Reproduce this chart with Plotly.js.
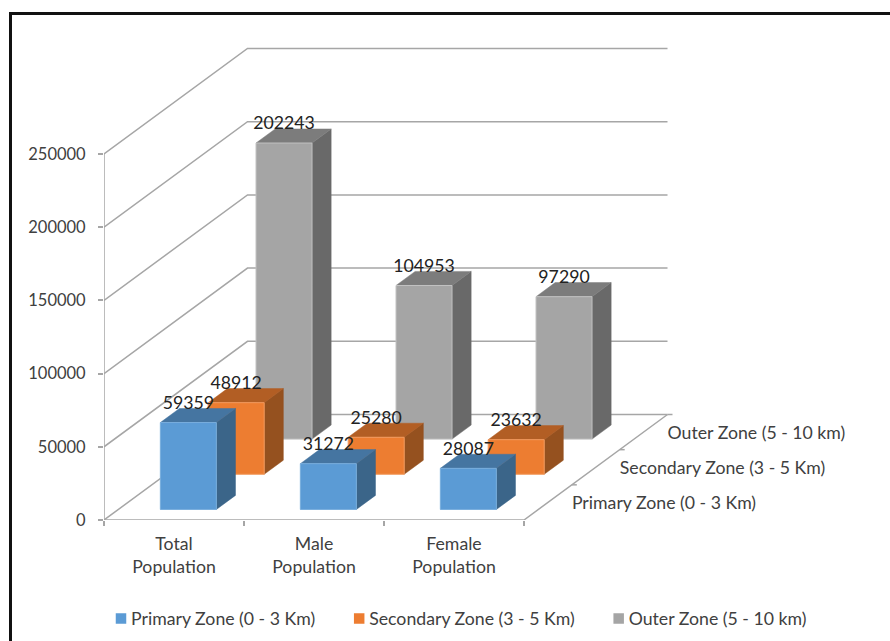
<!DOCTYPE html>
<html>
<head>
<meta charset="utf-8">
<script src="https://cdn.plot.ly/plotly-3.0.1.min.js"></script>
<style>
  html, body { margin: 0; padding: 0; background: #fff; }
  #chart { width: 890px; height: 641px; }
</style>
</head>
<body>
<div id="chart"></div>
<script>
// Population by zone
const categories = ['Total<br>Population', 'Male<br>Population', 'Female<br>Population'];
const zones = ['Primary Zone (0 - 3 Km)', 'Secondary Zone (3 - 5 Km)', 'Outer Zone (5 - 10 km)'];
const depthLabels = ['Primary Zone (0 - 3 Km)', 'Secondary Zone (3 - 5 Km)', 'Outer Zone (5 - 10 km)'];
const primaryValues = [59359, 31272, 28087];
const secondaryValues = [48912, 25280, 23632];
const outerValues = [202243, 104953, 97290];
const valueTicks = [0, 50000, 100000, 150000, 200000, 250000];

const seriesValues = [primaryValues, secondaryValues, outerValues];
const faceColors = [
  { front: '#5b9bd5', side: '#3b6589', top: '#4575a1', edge: '#78aedd' },
  { front: '#ed7d31', side: '#95511f', top: '#b25e24', edge: '#f39a5e' },
  { front: '#a5a5a5', side: '#696969', top: '#7c7c7c', edge: '#c2c2c2' }
];

// Plot frame and the scale of the oblique view
const W = 890, H = 641;
const M = { l: 104, r: 0, t: 20, b: 121 };
const pxPerCategory = 140;
const pxPerValue = 366 / 250000;
const plotW = W - M.l - M.r, plotH = H - M.t - M.b;
const depthStepX = (143.5 / 3) / pxPerCategory;       // category units per zone of depth
const depthStepY = (105.5 / 3) / pxPerValue;          // value units per zone of depth

const textFont = 'Lato, sans-serif';
const wordSize = 17.7, digitSize = 16.5, labelSize = 17.7;

// Oblique projection: category position, depth in zones, value
const project = (c, d, v) => [c + d * depthStepX, v + d * depthStepY];

function polyline(points) {
  const xs = [], ys = [];
  points.forEach(p => { xs.push(p[0]); ys.push(p[1]); });
  return { xs, ys };
}
function joinPaths(paths) {
  const x = [], y = [];
  paths.forEach(path => {
    const l = polyline(path);
    x.push(...l.xs, null);
    y.push(...l.ys, null);
  });
  return { x, y };
}

const axisColor = '#a6a6a6';
const traces = [];

// Walls and floor
const wallPaths = [];
valueTicks.forEach(v => {
  wallPaths.push([project(0, 0, v), project(0, 3, v), project(3, 3, v)]);
});
wallPaths.push([project(0, 0, 0), project(0, 0, 250000)]);
wallPaths.push([project(0, 0, 0), project(3, 0, 0), project(3, 3, 0)]);
[1, 2, 3].forEach(d => {
  const p = project(3, d, 0);
  wallPaths.push([p, [p[0] + 5 / pxPerCategory, p[1]]]);
});
traces.push(Object.assign(joinPaths(wallPaths), {
  type: 'scatter', mode: 'lines', showlegend: false, hoverinfo: 'skip',
  line: { color: axisColor, width: 1.5 }
}));

// Boxes, drawn from the back row to the front
const halfWidth = 0.2, rowInset = 0.3, rowDepth = 0.4;
[2, 1, 0].forEach(z => {
  const sides = [], tops = [], fronts = [];
  seriesValues[z].forEach((v, i) => {
    const c0 = i + 0.5 - halfWidth, c1 = i + 0.5 + halfWidth;
    const d0 = z + rowInset, d1 = d0 + rowDepth;
    fronts.push([project(c0, d0, 0), project(c1, d0, 0), project(c1, d0, v), project(c0, d0, v), project(c0, d0, 0)]);
    sides.push([project(c1, d0, 0), project(c1, d1, 0), project(c1, d1, v), project(c1, d0, v), project(c1, d0, 0)]);
    tops.push([project(c0, d0, v), project(c1, d0, v), project(c1, d1, v), project(c0, d1, v), project(c0, d0, v)]);
  });
  const col = faceColors[z];
  [[sides, col.side, col.side, 0.5], [tops, col.top, col.top, 0.5], [fronts, col.front, col.edge, 1]].forEach(f => {
    traces.push(Object.assign(joinPaths(f[0]), {
      type: 'scatter', mode: 'lines', fill: 'toself', fillcolor: f[1],
      line: { color: f[2], width: f[3] }, showlegend: false, hoverinfo: 'skip'
    }));
  });
});

// Value labels sit a fixed lift above each box's front top edge
const labelLift = 18 / pxPerValue;
[2, 1, 0].forEach(z => {
  const pts = seriesValues[z].map((v, i) => project(i + 0.5, z + rowInset, v));
  traces.push({
    type: 'scatter', mode: 'text', showlegend: false, hoverinfo: 'skip', cliponaxis: false,
    x: pts.map(p => p[0]),
    y: pts.map(p => p[1] + labelLift),
    text: seriesValues[z].map(String),
    textposition: 'middle center',
    textfont: { family: textFont, size: labelSize, color: '#222222' }
  });
});

// Row names along the right floor edge
const rowLabelPts = depthLabels.map((t, d) => project(3 + 24 / pxPerCategory, d + 0.5, -2 / pxPerValue));
traces.push({
  type: 'scatter', mode: 'text', showlegend: false, hoverinfo: 'skip', cliponaxis: false,
  x: rowLabelPts.map(p => p[0]),
  y: rowLabelPts.map(p => p[1]),
  text: depthLabels,
  textposition: 'middle right',
  textfont: { family: textFont, size: wordSize, color: '#404040' }
});

// Legend entries
zones.forEach((name, z) => {
  traces.push({
    type: 'scatter', mode: 'markers', x: [null], y: [null], name: name,
    marker: { symbol: 'square', size: 10.5, color: faceColors[z].front },
    hoverinfo: 'skip'
  });
});

const frameX = px => (px - M.l) / plotW;
const frameY = py => 1 - (py - M.t) / plotH;

const layout = {
  width: W, height: H,
  margin: { l: M.l, r: M.r, t: M.t, b: M.b, pad: 0 },
  paper_bgcolor: '#ffffff', plot_bgcolor: '#ffffff',
  font: { family: textFont, size: wordSize, color: '#404040' },
  xaxis: {
    range: [0, plotW / pxPerCategory],
    tickmode: 'array',
    tickvals: [0.5, 1.5, 2.5],
    ticktext: categories,
    ticks: '', showgrid: false, zeroline: false, showline: false,
    ticklabelstandoff: 11,
    minor: { tickmode: 'array', tickvals: [0, 1, 2, 3], ticks: 'outside', ticklen: 5, tickwidth: 1.5, tickcolor: axisColor, showgrid: false },
    tickfont: { family: textFont, size: wordSize, color: '#404040' }
  },
  yaxis: {
    range: [0, plotH / pxPerValue],
    tickmode: 'array',
    tickvals: valueTicks,
    ticktext: valueTicks.map(String),
    ticks: 'outside', ticklen: 5, tickwidth: 1.5, tickcolor: axisColor,
    showgrid: false, zeroline: false, showline: false,
    ticklabelstandoff: 9,
    tickfont: { family: textFont, size: digitSize, color: '#404040' }
  },
  showlegend: true,
  legend: {
    orientation: 'h', x: frameX(82), xanchor: 'left', y: frameY(619), yanchor: 'middle',
    itemwidth: 39,
    bgcolor: 'rgba(0,0,0,0)', borderwidth: 0, traceorder: 'normal',
    font: { family: textFont, size: wordSize, color: '#404040' }
  },
  shapes: [
    { type: 'line', xref: 'paper', yref: 'paper', x0: frameX(9), x1: frameX(890), y0: frameY(13.5), y1: frameY(13.5), line: { color: '#111111', width: 3 } },
    { type: 'line', xref: 'paper', yref: 'paper', x0: frameX(10.5), x1: frameX(10.5), y0: frameY(13), y1: frameY(641), line: { color: '#111111', width: 3 } }
  ]
};

Plotly.newPlot('chart', traces, layout, { displayModeBar: false, responsive: false }).then(() => {
  // Bring each legend swatch up next to its text
  document.querySelectorAll('#chart .legend .legendpoints').forEach(g => {
    g.setAttribute('transform', 'translate(14.5,0)');
  });
});
</script>
</body>
</html>
